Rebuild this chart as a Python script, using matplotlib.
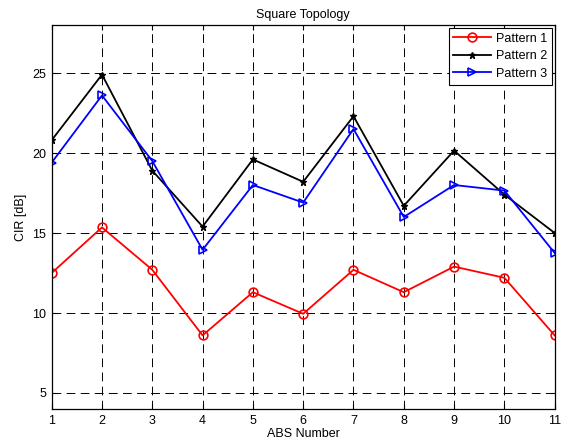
import matplotlib
matplotlib.use("Agg")
import matplotlib.pyplot as plt

plt.rcParams['font.family'] = ['Liberation Sans', 'DejaVu Sans']

abs_number = [1, 2, 3, 4, 5, 6, 7, 8, 9, 10, 11]
pattern1 = [12.5, 15.35, 12.7, 8.6, 11.3, 9.95, 12.7, 11.3, 12.9, 12.2, 8.6]
pattern2 = [20.8, 24.9, 18.9, 15.4, 19.6, 18.2, 22.3, 16.7, 20.15, 17.4, 15.0]
pattern3 = [19.4, 23.6, 19.5, 13.95, 18.0, 16.9, 21.5, 16.0, 18.0, 17.65, 13.75]
yticks = [5, 10, 15, 20, 25]

fig = plt.figure(figsize=(5.66, 4.45), dpi=100)
ax = fig.add_axes([0.0913, 0.0809, 0.8887, 0.8629])

ax.plot(abs_number, pattern1, color='red', lw=1.3, marker='o', ms=6.3,
        mfc='none', mec='red', mew=1.2, label='Pattern 1')
ax.plot(abs_number, pattern2, color='black', lw=1.3, marker='*', ms=5,
        mfc='black', mec='black', label='Pattern 2')
ax.plot(abs_number, pattern3, color='blue', lw=1.3, marker='>', ms=6.3,
        mfc='none', mec='blue', mew=1.2, label='Pattern 3')

ax.set_xlim(1, 11)
ax.set_ylim(4, 28)
ax.set_xticks(abs_number)
ax.set_yticks(yticks)
ax.tick_params(direction='in', labelsize=9, length=3.5, top=True, right=True, width=0.8, pad=4)
ax.grid(True, color='black', linestyle=(0, (9, 5.5)), lw=0.7)
for s in ax.spines.values():
    s.set_linewidth(0.9)

ax.set_title('Square Topology', fontsize=9, pad=5)
ax.set_xlabel('ABS Number', fontsize=9, labelpad=1)
ax.set_ylabel('CIR [dB]', fontsize=9, labelpad=4)

leg = ax.legend(loc='upper right', fontsize=9, fancybox=False, framealpha=1,
                edgecolor='black', borderaxespad=0.22, handlelength=3.0,
                labelspacing=0.45, borderpad=0.38, handletextpad=0.4)
leg.get_frame().set_linewidth(0.8)

fig.savefig('out.png', dpi=100)
